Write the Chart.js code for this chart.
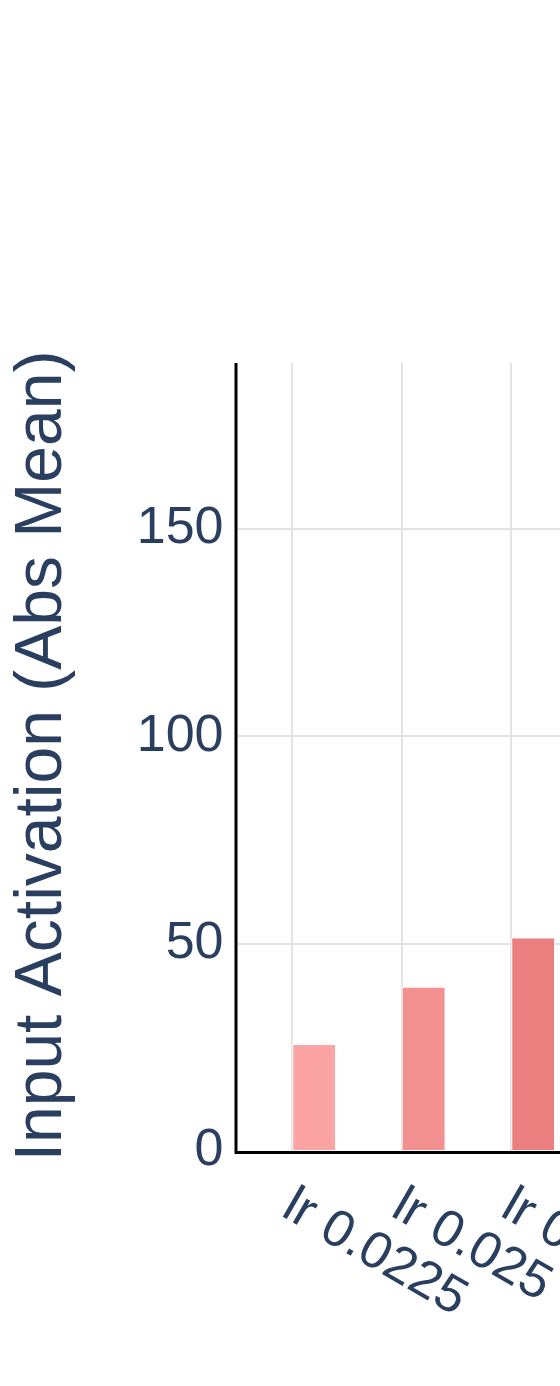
<!DOCTYPE html>
<html><head><meta charset="utf-8">
<script src="https://cdn.jsdelivr.net/npm/chart.js@4/dist/chart.umd.min.js"></script>
<style>
html,body{margin:0;padding:0;overflow:hidden;background:#fff;width:560px;height:1386px}
#wrap{position:relative;width:566px;height:1386px}
</style>
</head><body>
<div id="wrap"><canvas id="c" width="566" height="1386"></canvas></div>
<script>
// ---- data ----
const categories = ['lr 0.0225', 'lr 0.025', 'lr 0.0275'];
const otherSeriesValues = [null, null, null];
const activationValues = [25.8, 39.6, 51.5];
const barColors = ['#FCA4A4', '#F39090', '#EB7F7F'];
const yTickValues = [0, 50, 100, 150];
const yAxisTitle = 'Input Activation (Abs Mean)';

const textColor = '#2A3F5F';
const fontFamily = '"Liberation Sans", Arial, sans-serif';
Chart.defaults.font.family = fontFamily;

const textPlugin = {
  id: 'texts',
  afterDraw(chart) {
    const ctx = chart.ctx;
    const xs = chart.scales.x;
    const base = chart.chartArea.bottom;
    ctx.save();
    ctx.fillStyle = textColor;
    ctx.font = '52px ' + fontFamily;
    categories.forEach((lab, i) => {
      const px = xs.getPixelForValue(i);
      ctx.save();
      ctx.translate(px - 12.5, base + 64);
      ctx.rotate(Math.PI / 6);
      ctx.textAlign = 'left';
      ctx.textBaseline = 'alphabetic';
      ctx.fillText(lab, 0, 0);
      ctx.restore();
    });
    ctx.save();
    ctx.font = '66px ' + fontFamily;
    ctx.translate(61, 756);
    ctx.rotate(-Math.PI / 2);
    ctx.textAlign = 'center';
    ctx.textBaseline = 'alphabetic';
    ctx.fillText(yAxisTitle, 0, 0);
    ctx.restore();
    // axis lines on top
    const a = chart.chartArea;
    ctx.strokeStyle = '#000';
    ctx.lineWidth = 3;
    ctx.beginPath();
    ctx.moveTo(236, a.top);
    ctx.lineTo(236, a.bottom + 1.5);
    ctx.lineTo(a.right, a.bottom + 1.5);
    ctx.stroke();
    ctx.restore();
  }
};

new Chart(document.getElementById('c'), {
  type: 'bar',
  data: {
    labels: categories,
    datasets: [
      { label: 'other', data: otherSeriesValues, backgroundColor: '#ccc' },
      { label: 'activation', data: activationValues, backgroundColor: barColors,
        borderColor: 'rgba(255,255,255,0.9)', borderWidth: 1 }
    ]
  },
  options: {
    responsive: false,
    animation: false,
    events: [],
    layout: { padding: { top: 363, right: 0, bottom: 0, left: 0 } },
    datasets: { bar: { categoryPercentage: 0.8, barPercentage: 1.0 } },
    plugins: { legend: { display: false }, tooltip: { enabled: false } },
    scales: {
      x: {
        type: 'category',
        offset: true,
        grid: { offset: false, color: '#E3E3E3', lineWidth: 2, drawTicks: false },
        border: { display: false },
        ticks: { display: false },
        afterFit(s) { s.height = 235; }
      },
      y: {
        min: 0, max: 190,
        grid: {
          color: (c) => (c.tick && c.tick.value === 0) ? 'rgba(0,0,0,0)' : '#E3E3E3',
          lineWidth: 2, drawTicks: false
        },
        border: { display: false },
        ticks: { stepSize: 50, color: textColor, padding: 14, font: { size: 52 } },
        afterBuildTicks(s) {
          s.ticks = yTickValues.map(v => ({ value: v }));
        },
        afterFit(s) { s.width = 237.5; }
      }
    }
  },
  plugins: [textPlugin]
});
</script>
</body></html>
